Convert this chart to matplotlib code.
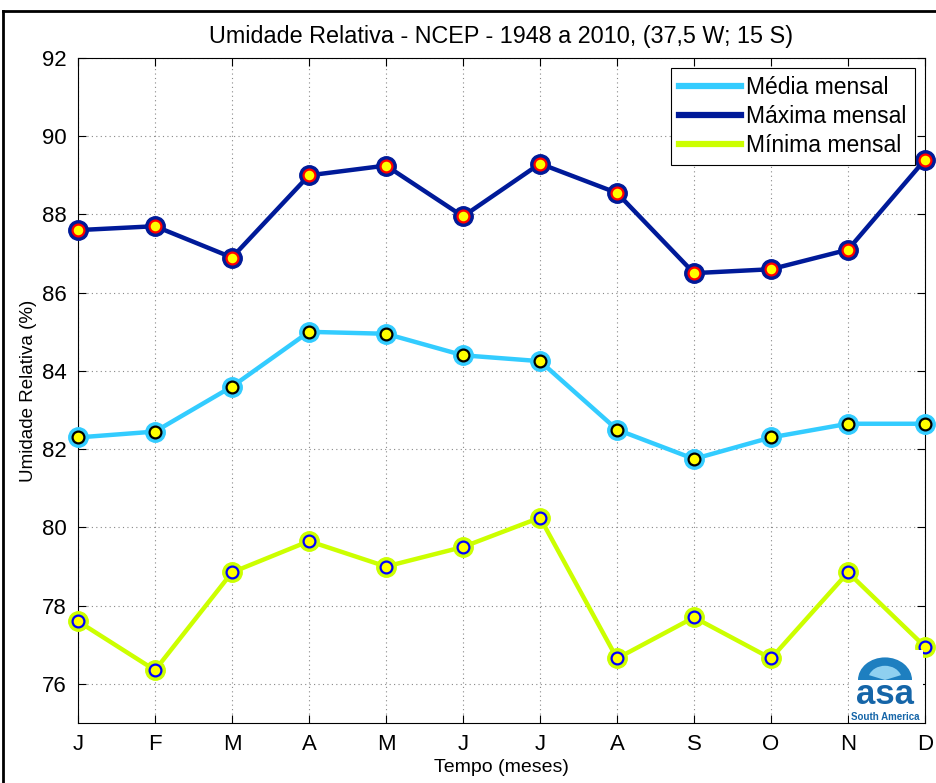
import matplotlib.pyplot as plt
import matplotlib.patches as mpatches
from matplotlib.lines import Line2D
import numpy as np

plt.rcParams['font.family'] = ['Liberation Sans', 'DejaVu Sans']

# monthly relative humidity (%)
meses = ['J', 'F', 'M', 'A', 'M', 'J', 'J', 'A', 'S', 'O', 'N', 'D']
media = [82.3, 82.45, 83.6, 85.0, 84.95, 84.4, 84.25, 82.5, 81.75, 82.3, 82.65, 82.65]
maxima = [87.6, 87.7, 86.9, 89.0, 89.25, 87.95, 89.3, 88.55, 86.5, 86.6, 87.1, 89.4]
minima = [77.6, 76.35, 78.85, 79.65, 79.0, 79.5, 80.25, 76.65, 77.7, 76.65, 78.85, 76.95]

c_media = '#33CCFF'
c_max = '#001A99'
c_min = '#CCFF00'

x = np.arange(1, 13)

fig = plt.figure(figsize=(9.36, 7.83), dpi=100)
ax = fig.add_axes([78/936, 1 - 723/783, (925-78)/936, (723-58)/783])

series = [(media, c_media, 'black'), (maxima, c_max, 'red'), (minima, c_min, 'blue')]
for vals, col, edge in series:
    ax.plot(x, vals, color=col, lw=3.2, marker='o', ms=14, mfc=col, mec=col, zorder=3, clip_on=False)
    ax.plot(x, vals, ls='none', marker='o', ms=8.5, mfc='yellow', mec=edge, mew=1.6, zorder=4, clip_on=False)

ax.set_xlim(1, 12)
ax.set_ylim(75, 92)
ax.set_xticks(x)
ax.set_xticklabels(meses)
ax.set_yticks(range(76, 93, 2))
ax.tick_params(direction='in', length=6, top=True, right=True, labelsize=16, pad=8)
ax.grid(True, ls=(0, (1, 3)), color='#888888', lw=0.8)
for s in ax.spines.values():
    s.set_linewidth(0.8)

ax.set_title('Umidade Relativa - NCEP - 1948 a 2010, (37,5 W; 15 S)', fontsize=16.8, pad=11)
ax.set_xlabel('Tempo (meses)', fontsize=14, labelpad=3)
ax.set_ylabel('Umidade Relativa (%)', fontsize=13.5, labelpad=4)

handles = [Line2D([], [], color=c_media, lw=4.5),
           Line2D([], [], color=c_max, lw=4.5),
           Line2D([], [], color=c_min, lw=4.5)]
leg = ax.legend(handles, ['Média mensal', 'Máxima mensal', 'Mínima mensal'],
                loc='upper right', fontsize=16.5, fancybox=False, framealpha=1,
                edgecolor='black', borderaxespad=0.45, labelspacing=0.25,
                handlelength=2.7, handletextpad=0.25, borderpad=0.35)
leg.get_frame().set_linewidth(0.8)
leg.set_zorder(6)

# logo in the lower right corner
lx, ly = 849/936, 1 - 722/783
fig.patches.append(mpatches.Rectangle((lx, ly), 74/936, 72/783, transform=fig.transFigure,
                                      facecolor='white', edgecolor='none', zorder=5))
fig.patches.append(mpatches.Wedge((885/936, 1 - 680/783), 27/936, 0, 180,
                                  transform=fig.transFigure, facecolor='#1E7FC0', zorder=6))
fig.patches.append(mpatches.Wedge((885/936, 1 - 680/783), 17/936, 20, 160,
                                  transform=fig.transFigure, facecolor='#8FD0F0', zorder=6))
fig.text(885/936, 1 - 704/783, 'asa', ha='center', va='baseline', fontsize=25,
         color='#1565A8', fontweight='bold', zorder=7)
fig.text(885/936, 1 - 720/783, 'South America', ha='center', va='baseline', fontsize=7,
         color='#1565A8', fontweight='bold', zorder=7)

# figure frame (left and top edges visible)
fig.add_artist(Line2D([3/936, 3/936], [0, 1 - 11/783], transform=fig.transFigure, color='black', lw=2))
fig.add_artist(Line2D([3/936, 1], [1 - 11/783, 1 - 11/783], transform=fig.transFigure, color='black', lw=2))

fig.savefig('out.png', dpi=100)
